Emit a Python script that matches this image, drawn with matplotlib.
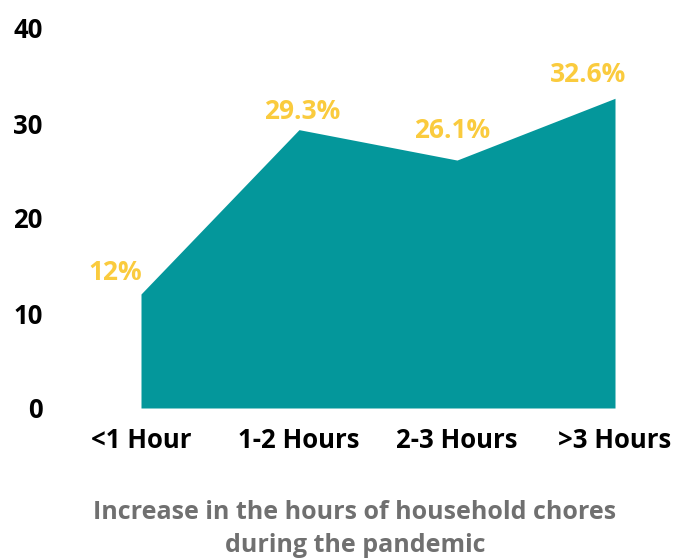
import matplotlib.pyplot as plt

# Extra hours spent on household chores
categories = ['<1 Hour', '1-2 Hours', '2-3 Hours', '>3 Hours']
percent = [12.0, 29.3, 26.1, 32.6]
value_labels = ['12%', '29.3%', '26.1%', '32.6%']
y_ticks = [0, 10, 20, 30, 40]

teal = '#04979B'
gold = '#FACB3E'

plt.rcParams['font.family'] = ['Open Sans', 'DejaVu Sans']

fig = plt.figure(figsize=(6.76, 5.58), dpi=100)
ax = fig.add_axes([55 / 676, 1 - 408 / 558, 605 / 676, 380 / 558])

x = list(range(len(categories)))
ax.fill_between(x, percent, 0, color=teal, linewidth=0)

# label offsets in pixels so each value sits clear of the edge
offsets = [(-26, 22), (3, 18), (-5, 30), (-27, 24)]
for xi, yi, lab, (dx, dy) in zip(x, percent, value_labels, offsets):
    ax.annotate(lab, (xi, yi), xytext=(dx, dy), textcoords='offset pixels',
                ha='center', va='center', color=gold, fontsize=19,
                fontweight='bold')

ax.set_xlim(-86 / 158, 3 + 45 / 158)
ax.set_ylim(0, 40)
ax.set_yticks(y_ticks)
ax.set_xticks(x)
ax.set_xticklabels(categories)
for s in ax.spines.values():
    s.set_visible(False)
ax.tick_params(length=0)
ax.tick_params(axis='y', pad=9)
ax.tick_params(axis='x', pad=14)
for t in ax.get_xticklabels() + ax.get_yticklabels():
    t.set_fontsize(18.5)
    t.set_fontweight('bold')
    t.set_color('black')

fig.text(355 / 676, 1 - 529 / 558,
         'Increase in the hours of household chores\nduring the pandemic',
         ha='center', va='center', color='#707070', fontsize=18,
         fontweight='bold', linespacing=1.45)

fig.savefig('out.png', dpi=100)
